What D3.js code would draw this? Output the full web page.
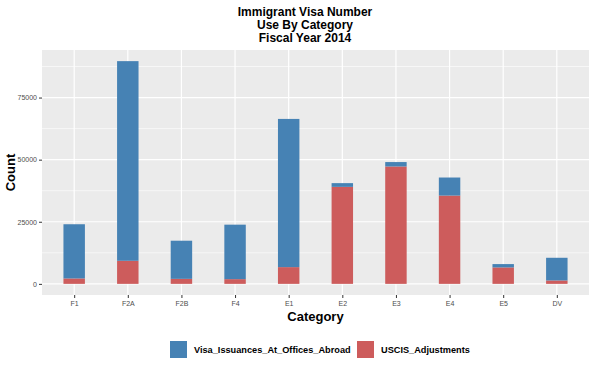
<!DOCTYPE html>
<html>
<head>
<meta charset="utf-8">
<script src="https://cdn.jsdelivr.net/npm/d3@7"></script>
<style>
  body { margin: 0; background: #fff; }
  text { font-family: "Liberation Sans", Arial, sans-serif; }
</style>
</head>
<body>
<script>
// Data
var categories = ['F1', 'F2A', 'F2B', 'F4', 'E1', 'E2', 'E3', 'E4', 'E5', 'DV']
var uscisAdjustments = [2180, 9290, 2020, 1900, 6740, 39050, 47250, 35540, 6620, 1370]
var visaAbroad = [21820, 80370, 15350, 21930, 59660, 1500, 1780, 7270, 1340, 9130]
var seriesNames = ['Visa_Issuances_At_Offices_Abroad', 'USCIS_Adjustments']
var yTicks = [0, 25000, 50000, 75000]
var yMinor = [12500, 37500, 62500, 87500]
var titleLines = ['Immigrant Visa Number', 'Use By Category', 'Fiscal Year 2014']

// Global sizes
var width = 600
var height = 366
var panel = {left: 42, right: 589, top: 50, bottom: 295}
var colors = {Visa_Issuances_At_Offices_Abroad: '#4682B4', USCIS_Adjustments: '#CD5C5C'}

var rows = categories.map((c, i) => ({
  cat: c,
  USCIS_Adjustments: uscisAdjustments[i],
  Visa_Issuances_At_Offices_Abroad: visaAbroad[i]
}))
// red at the bottom, blue on top
var stack = d3.stack().keys(['USCIS_Adjustments', 'Visa_Issuances_At_Offices_Abroad'])(rows)

var maxV = d3.max(rows, d => d.USCIS_Adjustments + d.Visa_Issuances_At_Offices_Abroad)
var pad = maxV * 0.05

// Scales
var x = d3.scalePoint()
          .domain(categories)
          .range([panel.left, panel.right])
          .padding(0.6)
var step = x.step()
var barW = step * 0.4
var y = d3.scaleLinear()
          .domain([-pad, maxV + pad])
          .range([panel.bottom, panel.top])

var svg = d3.select('body')
            .append('svg')
            .attr('width', width)
            .attr('height', height)

// Panel background
svg.append('rect')
   .attr('x', panel.left).attr('y', panel.top)
   .attr('width', panel.right - panel.left)
   .attr('height', panel.bottom - panel.top)
   .attr('fill', '#EBEBEB')

// Grid lines
svg.append('g').selectAll('line')
   .data(yMinor.filter(v => y(v) > panel.top))
   .enter().append('line')
   .attr('x1', panel.left).attr('x2', panel.right)
   .attr('y1', d => y(d)).attr('y2', d => y(d))
   .attr('stroke', '#fff').attr('stroke-width', 0.6)
svg.append('g').selectAll('line')
   .data(yTicks)
   .enter().append('line')
   .attr('x1', panel.left).attr('x2', panel.right)
   .attr('y1', d => y(d)).attr('y2', d => y(d))
   .attr('stroke', '#fff').attr('stroke-width', 1.2)
svg.append('g').selectAll('line')
   .data(categories)
   .enter().append('line')
   .attr('x1', d => x(d)).attr('x2', d => x(d))
   .attr('y1', panel.top).attr('y2', panel.bottom)
   .attr('stroke', '#fff').attr('stroke-width', 1.2)

// Bars
svg.append('g').selectAll('g')
   .data(stack)
   .enter().append('g')
   .attr('fill', d => colors[d.key])
   .selectAll('rect')
   .data(d => d)
   .enter().append('rect')
   .attr('x', d => x(d.data.cat) - barW / 2)
   .attr('y', d => y(d[1]))
   .attr('width', barW)
   .attr('height', d => y(d[0]) - y(d[1]))

// Axes
var yAxis = svg.append('g')
               .attr('transform', 'translate(' + panel.left + ',0)')
               .call(d3.axisLeft(y).tickValues(yTicks).tickSize(3).tickPadding(2).tickFormat(d3.format('d')))
var xAxis = svg.append('g')
               .attr('transform', 'translate(0,' + panel.bottom + ')')
               .call(d3.axisBottom(x).tickSize(3).tickPadding(3))
;[yAxis, xAxis].forEach(a => {
  a.select('.domain').remove()
  a.selectAll('.tick line').attr('stroke', '#333').attr('stroke-width', 1)
  a.selectAll('.tick text').attr('fill', '#4D4D4D').attr('font-size', 7)
   .style('font-family', '"Liberation Sans", Arial, sans-serif')
})

// Titles
svg.append('g').selectAll('text')
   .data(titleLines)
   .enter().append('text')
   .attr('x', 305)
   .attr('y', (d, i) => 16 + i * 13)
   .attr('text-anchor', 'middle')
   .attr('font-size', 12)
   .attr('font-weight', 'bold')
   .text(d => d)

svg.append('text')
   .attr('x', (panel.left + panel.right) / 2)
   .attr('y', 321)
   .attr('text-anchor', 'middle')
   .attr('font-size', 13)
   .attr('font-weight', 'bold')
   .text('Category')

svg.append('text')
   .attr('transform', 'translate(15,' + (panel.top + panel.bottom) / 2 + ') rotate(-90)')
   .attr('text-anchor', 'middle')
   .attr('font-size', 13)
   .attr('font-weight', 'bold')
   .text('Count')

// Legend
var legendX = [170, 357]
var legend = svg.append('g').selectAll('g')
                .data(seriesNames)
                .enter().append('g')
                .attr('transform', (d, i) => 'translate(' + legendX[i] + ',341)')
legend.append('rect')
      .attr('width', 17).attr('height', 17)
      .attr('fill', d => colors[d])
legend.append('text')
      .attr('x', 24).attr('y', 12)
      .attr('font-size', 9.2)
      .attr('font-weight', 'bold')
      .text(d => d)
</script>
</body>
</html>
